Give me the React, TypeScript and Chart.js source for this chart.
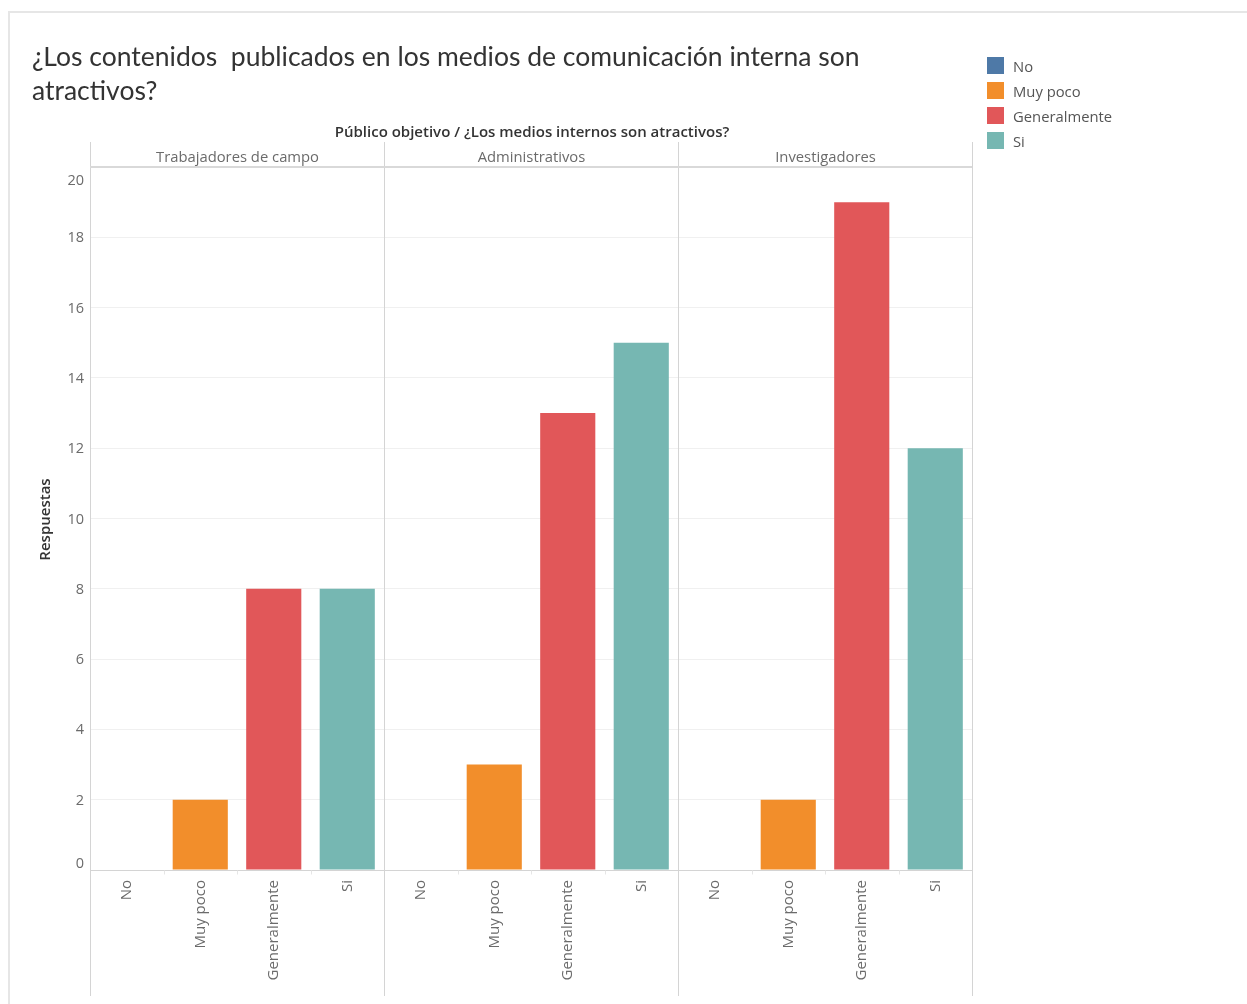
import React, { useEffect, useRef } from "react";
import { Chart, registerables } from "chart.js";

Chart.register(...registerables);

const panels = ["Trabajadores de campo", "Administrativos", "Investigadores"];
const answers = ["No", "Muy poco", "Generalmente", "Si"];
const answerColors = ["#4e79a7", "#f28e2b", "#e15759", "#76b7b2"];
const trabajadores = [0, 2, 8, 8];
const administrativos = [0, 3, 13, 15];
const investigadores = [0, 2, 19, 12];
const yTicks = [0, 2, 4, 6, 8, 10, 12, 14, 16, 18, 20];

const titleText = "¿Los contenidos  publicados en los medios de comunicación interna son atractivos?";
const headerTitle = "Público objetivo / ¿Los medios internos son atractivos?";
const yTitle = "Respuestas";
const FONT = "'Open Sans', 'Noto Sans', sans-serif";
const TITLE_FONT = "Lato, 'Noto Sans', sans-serif";

const labels: string[] = [];
const values: number[] = [];
const colors: string[] = [];
[trabajadores, administrativos, investigadores].forEach((arr) => {
  arr.forEach((v, i) => {
    labels.push(answers[i]);
    values.push(v);
    colors.push(answerColors[i]);
  });
});

const facetPlugin = {
  id: "facet",
  beforeDatasetsDraw(chart: any) {
    const { ctx, chartArea, scales } = chart;
    const x = scales.x;
    const y = scales.y;
    const headTop = 142;
    const bottom = 996;
    ctx.save();
    const bounds: number[] = [];
    for (let p = 0; p <= panels.length; p++) {
      const i = p * answers.length;
      let px: number;
      if (i === 0) px = chartArea.left;
      else if (i >= labels.length) px = chartArea.right;
      else px = (x.getPixelForValue(i - 1) + x.getPixelForValue(i)) / 2;
      bounds.push(Math.round(px) + 0.5);
    }
    ctx.strokeStyle = "#d4d4d4";
    ctx.lineWidth = 1;
    bounds.forEach((bx) => {
      ctx.beginPath();
      ctx.moveTo(bx, headTop);
      ctx.lineTo(bx, bottom);
      ctx.stroke();
    });
    ctx.strokeStyle = "#d9d9d9";
    ctx.lineWidth = 2;
    ctx.beginPath();
    ctx.moveTo(chartArea.left, chartArea.top);
    ctx.lineTo(chartArea.right, chartArea.top);
    ctx.stroke();
    ctx.strokeStyle = "#d4d4d4";
    ctx.lineWidth = 1;
    const y0 = Math.round(y.getPixelForValue(0)) + 0.5;
    ctx.beginPath();
    ctx.moveTo(chartArea.left, y0);
    ctx.lineTo(chartArea.right, y0);
    ctx.stroke();
    ctx.strokeStyle = "#e6e6e6";
    for (let i = 1; i < labels.length; i++) {
      if (i % answers.length === 0) continue;
      const tx = Math.round((x.getPixelForValue(i - 1) + x.getPixelForValue(i)) / 2) + 0.5;
      ctx.beginPath();
      ctx.moveTo(tx, y0);
      ctx.lineTo(tx, y0 + 4);
      ctx.stroke();
    }
    // y tick labels (Tableau style: end labels kept inside the pane)
    ctx.fillStyle = "#6b6b6b";
    ctx.font = `14.5px ${FONT}`;
    ctx.textAlign = "right";
    ctx.textBaseline = "alphabetic";
    const maxV = yTicks[yTicks.length - 1];
    yTicks.forEach((v) => {
      const py = y.getPixelForValue(v);
      let by = py + 5;
      if (v === maxV) by = py + 18;
      else if (v === 0) by = py - 2;
      ctx.fillText(String(v), chartArea.left - 6, by);
    });
    // panel headers
    ctx.textAlign = "center";
    ctx.textBaseline = "middle";
    ctx.fillStyle = "#6b6b6b";
    ctx.font = `14.8px ${FONT}`;
    panels.forEach((p, k) => {
      ctx.fillText(p, (bounds[k] + bounds[k + 1]) / 2, 158);
    });
    ctx.fillStyle = "#333333";
    ctx.font = `600 15px ${FONT}`;
    ctx.fillText(headerTitle, (chartArea.left + chartArea.right) / 2 + 1, 133);
    ctx.translate(46, (chartArea.top + chartArea.bottom) / 2 + 1);
    ctx.rotate(-Math.PI / 2);
    ctx.fillStyle = "#333333";
    ctx.font = `600 15px ${FONT}`;
    ctx.fillText(yTitle, 0, 0);
    ctx.restore();
  },
};

export default function App() {
  const ref = useRef<HTMLCanvasElement>(null);
  useEffect(() => {
    if (!ref.current) return;
    const chart = new Chart(ref.current, {
      type: "bar",
      data: {
        labels,
        datasets: [
          {
            data: values,
            backgroundColor: colors,
            barPercentage: 0.75,
            categoryPercentage: 1,
          },
        ],
      },
      options: {
        animation: false,
        responsive: false,
        maintainAspectRatio: false,
        layout: { padding: { left: 30, right: 275, top: 167, bottom: 8 } },
        plugins: { legend: { display: false }, tooltip: { enabled: false } },
        scales: {
          x: {
            offset: true,
            grid: { display: false },
            border: { display: false },
            ticks: {
              minRotation: 90,
              maxRotation: 90,
              autoSkip: false,
              padding: 2,
              color: "#6b6b6b",
              font: { family: FONT, size: 15 },
            },
            afterFit: (s: any) => {
              s.height = 126;
            },
          },
          y: {
            min: 0,
            max: 20,
            afterBuildTicks: (s: any) => {
              s.ticks = yTicks.map((v) => ({ value: v }));
            },
            grid: { color: "#f0f0f0", drawTicks: false },
            border: { display: false },
            ticks: { display: false },
            afterFit: (s: any) => {
              s.width = 60;
            },
          },
        },
      },
      plugins: [facetPlugin],
    });
    return () => chart.destroy();
  }, []);

  return (
    <div style={{ position: "fixed", left: 0, top: 0, width: 1247, height: 1004, background: "#fff", fontFamily: FONT }}>
      <div style={{ position: "absolute", left: 8, top: 11, right: 0, height: 2, background: "#e6e6e6" }} />
      <div style={{ position: "absolute", left: 8, top: 11, bottom: 0, width: 2, background: "#e6e6e6" }} />
      <canvas ref={ref} width={1247} height={1004} style={{ position: "absolute", left: 0, top: 0 }} />
      <div
        style={{
          position: "absolute",
          left: 32,
          top: 39,
          width: 880,
          fontFamily: TITLE_FONT,
          fontSize: 26.5,
          lineHeight: "34px",
          color: "#333",
          whiteSpace: "pre-wrap",
        }}
      >
        {titleText}
      </div>
      <div style={{ position: "absolute", left: 987, top: 53 }}>
        {answers.map((a, i) => (
          <div key={a} style={{ display: "flex", alignItems: "center", height: 25 }}>
            <div style={{ width: 17, height: 17, background: answerColors[i], marginRight: 9 }} />
            <span style={{ fontSize: 14.8, color: "#555" }}>{a}</span>
          </div>
        ))}
      </div>
    </div>
  );
}
